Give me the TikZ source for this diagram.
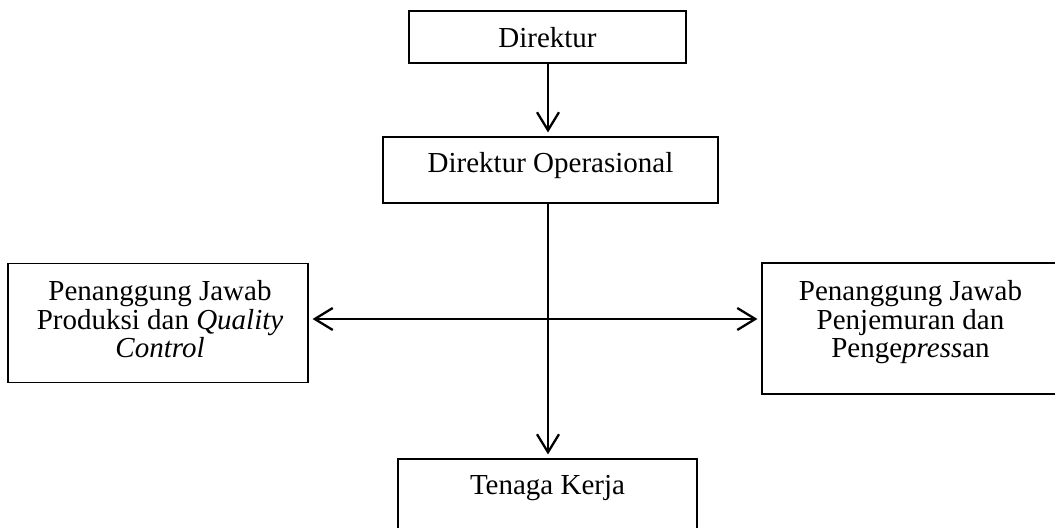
\documentclass[tikz,border=0pt]{standalone}
\usepackage{fontspec}
\setmainfont{Liberation Serif}
\usetikzlibrary{arrows.meta}
\begin{document}
\begin{tikzpicture}[x=0.5pt,y=-0.5pt,
  box/.style={draw=black,line width=0.55pt,rectangle,inner sep=0pt},
  lbl/.style={inner sep=0pt,font=\fontsize{14.5pt}{14.25pt}\selectfont,align=center},
  arr/.style={line width=1.15pt,-{Straight Barb[length=9pt,width=11pt,line width=1.15pt]},shorten >=2pt}]
\useasboundingbox (0,0) rectangle (1055,528);
\clip (0,0) rectangle (1055,528);
% boxes of the chart
\node[box,minimum width=138.5pt,minimum height=26pt] (dir) at (547.5,37) {};
\node[box,minimum width=167.5pt,minimum height=33pt] (ops) at (550.5,170) {};
\node[box,minimum width=150pt,minimum height=59.5pt] (lft) at (158,323) {};
\node[box,minimum width=150pt,minimum height=65.5pt] (rgt) at (912,328.5) {};
\node[box,minimum width=149.5pt,minimum height=60.5pt] (tk) at (547.5,519.5) {};
% texts
\node[lbl,anchor=base] (tdir) at (547.5,48) {Direktur};
\node[lbl,anchor=base] (tops) at (550.5,173) {Direktur Operasional};
\node[lbl,anchor=north] (tlft) at (160,280) {Penanggung Jawab\\Produksi dan \textit{Quality}\\\textit{Control}};
\node[lbl,anchor=north] (trgt) at (910.5,280) {Penanggung Jawab\\Penjemuran dan\\Penge\textit{press}an};
\node[lbl,anchor=base] (ttk) at (547.5,495) {Tenaga Kerja};
% connectors
\coordinate (hub) at (548,319);
\draw[arr] (hub |- dir.south) -- (hub |- ops.north);
\draw[arr] (hub |- ops.south) -- (hub |- tk.north);
\draw[arr] (hub) -- (lft.east |- hub);
\draw[arr] (hub) -- (rgt.west |- hub);
\end{tikzpicture}
\end{document}
